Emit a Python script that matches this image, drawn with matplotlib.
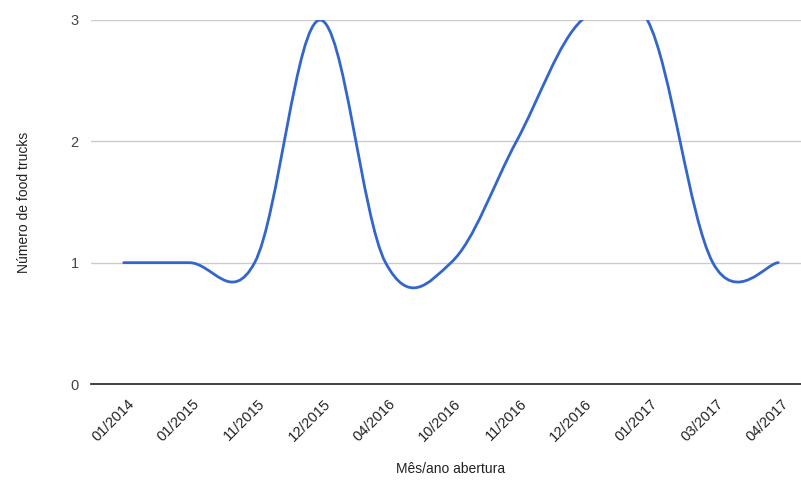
import matplotlib
matplotlib.use('Agg')
import matplotlib.pyplot as plt
import matplotlib.transforms as mtransforms
from matplotlib.path import Path
from matplotlib.patches import PathPatch

# months when food trucks opened and how many opened in each
months = ['01/2014', '01/2015', '11/2015', '12/2015', '04/2016', '10/2016',
          '11/2016', '12/2016', '01/2017', '03/2017', '04/2017']
trucks = [1, 1, 1, 3, 1, 1, 2, 3, 3, 1, 1]

plt.rcParams['font.family'] = ['Liberation Sans', 'DejaVu Sans']

fig = plt.figure(figsize=(8.01, 4.86), dpi=100)
W, H = 801, 486
# plot area runs past the right edge of the image
ax = fig.add_axes([91 / W, 1 - 384 / H, 720 / W, 364 / H])

# smooth curve through the points (bezier with neighbour-based control points)
pts = list(zip(range(len(months)), trucks))
f = 0.18
verts = [pts[0]]
codes = [Path.MOVETO]
for i in range(len(pts) - 1):
    p0 = pts[i - 1] if i > 0 else pts[i]
    p1 = pts[i]
    p2 = pts[i + 1]
    p3 = pts[i + 2] if i + 2 < len(pts) else pts[i + 1]
    c1 = (p1[0] + f * (p2[0] - p0[0]), p1[1] + f * (p2[1] - p0[1]))
    c2 = (p2[0] - f * (p3[0] - p1[0]), p2[1] - f * (p3[1] - p1[1]))
    verts += [c1, c2, p2]
    codes += [Path.CURVE4] * 3
curve = PathPatch(Path(verts, codes), facecolor='none', edgecolor='#3366cc',
                  lw=2.0, capstyle='round', joinstyle='round', zorder=3)
ax.add_patch(curve)

ax.set_xlim(-0.5, len(months) - 0.5)
ax.set_ylim(0, 3)
ax.set_yticks([0, 1, 2, 3])
ax.set_xticks(range(len(months)))
ax.set_xticklabels(months, rotation=45, ha='right', rotation_mode='anchor')

for s in ax.spines.values():
    s.set_visible(False)
ax.axhline(0, color='#333333', lw=1.3, zorder=4, clip_on=False)
for v in [1, 2, 3]:
    ax.axhline(v, color='#cccccc', lw=1, zorder=1)

ax.tick_params(axis='both', length=0, labelsize=10.5, colors='#222222')
ax.tick_params(axis='x', pad=9)
ax.tick_params(axis='y', pad=9, labelcolor='#444444')
# nudge the slanted month labels to the right of their ticks
shift = mtransforms.ScaledTranslation(3 / 100, 0, fig.dpi_scale_trans)
for lbl in ax.get_xticklabels():
    lbl.set_transform(lbl.get_transform() + shift)
ax.set_xlabel('Mês/ano abertura', fontsize=10, color='#222222', labelpad=13)
ax.set_ylabel('Número de food trucks', fontsize=10, color='#222222', labelpad=28)

fig.savefig('out.png', dpi=100)
